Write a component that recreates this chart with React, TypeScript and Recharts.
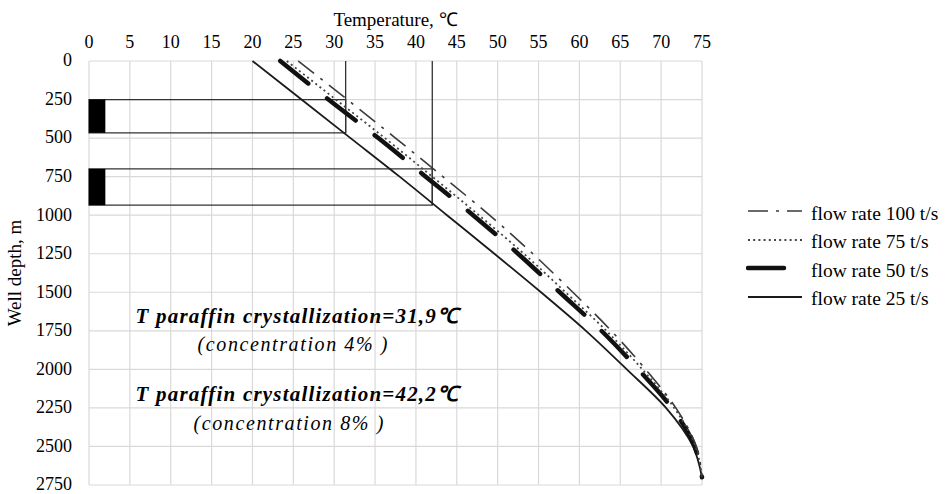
import {
  LineChart,
  Line,
  XAxis,
  YAxis,
  CartesianGrid,
  ReferenceArea,
  ReferenceLine,
  ReferenceDot,
  Legend,
} from "recharts";

// well depth, m (shared by every series)
const depth = [0, 250, 500, 750, 1000, 1250, 1500, 1750, 2000, 2250, 2500, 2700];
// temperature, deg C, per flow rate
const flow100 = [25.6, 31.6, 37.5, 43.3, 49.0, 54.3, 59.2, 63.9, 68.1, 71.8, 74.3, 75];
const flow75 = [24.2, 30.2, 36.2, 42.0, 47.7, 53.2, 58.3, 63.3, 67.7, 71.6, 74.2, 75];
const flow50 = [23.4, 29.3, 35.4, 41.2, 47.0, 52.5, 57.6, 62.7, 67.2, 71.3, 74.1, 75];
const flow25 = [20.0, 26.0, 32.0, 38.0, 43.8, 49.6, 55.3, 60.8, 65.8, 70.6, 73.9, 75];

const tempTicks = [0, 5, 10, 15, 20, 25, 30, 35, 40, 45, 50, 55, 60, 65, 70, 75];
const depthTicks = [0, 250, 500, 750, 1000, 1250, 1500, 1750, 2000, 2250, 2500, 2750];

// paraffin crystallization zones (temperature line, depth range)
const crystTemp = [31.4, 42.0];
const zoneTop = [250, 700];
const zoneBottom = [466, 935];
const markerWidth = 2;

const noteTitles = ["T paraffin crystallization=31,9℃", "T paraffin crystallization=42,2℃"];
const noteSubs = ["(concentration 4% )", "(concentration 8% )"];

const rows = depth.map((d, i) => ({
  depth: d,
  f100: flow100[i],
  f75: flow75[i],
  f50: flow50[i],
  f25: flow25[i],
}));

const series = [
  { key: "f100", name: "flow rate 100 t/s", stroke: "#3a3a3a", width: 1.6, dash: "20 8 3 8", cap: "butt" },
  { key: "f75", name: "flow rate 75 t/s", stroke: "#444", width: 1.8, dash: "2 3.2", cap: "butt" },
  { key: "f50", name: "flow rate 50 t/s", stroke: "#111", width: 4.5, dash: "36 24", cap: "round" },
  { key: "f25", name: "flow rate 25 t/s", stroke: "#1a1a1a", width: 1.8, dash: undefined, cap: "butt" },
];

const FONT = "'Liberation Serif', 'Times New Roman', serif";

function FlowLegend() {
  return (
    <div style={{ display: "flex", flexDirection: "column" }}>
      {series.map((s) => (
        <div key={s.key} style={{ display: "flex", alignItems: "center", height: 28.5 }}>
          <svg width={58} height={10}>
            <line
              x1={2}
              y1={5}
              x2={56}
              y2={5}
              stroke={s.stroke}
              strokeWidth={s.width}
              strokeDasharray={s.dash}
              strokeLinecap={s.cap as any}
            />
          </svg>
          <span style={{ marginLeft: 7, fontSize: 19.5, lineHeight: "20px", whiteSpace: "nowrap", paddingTop: 5 }}>
            {s.name}
          </span>
        </div>
      ))}
    </div>
  );
}

const noteLabel = (text: string, bold: boolean) => (props: any) => {
  const vb = props.viewBox ?? {};
  const x = (vb.x ?? 0) + (vb.width ?? 0) / 2;
  const y = (vb.y ?? 0) + (vb.height ?? 0) / 2;
  return (
    <text
      x={x}
      y={y}
      textAnchor="middle"
      fontFamily={FONT}
      fontSize={bold ? 21 : 20}
      fontWeight={bold ? 700 : 400}
      fontStyle="italic"
      letterSpacing={bold ? 1.2 : 1.6}
      fill="#000"
    >
      {text}
    </text>
  );
};

const yTitle = (props: any) => {
  const vb = props.viewBox ?? {};
  const x = (vb.x ?? 0) - 8;
  const y = (vb.y ?? 0) + (vb.height ?? 0) / 2;
  return (
    <text
      x={x}
      y={y}
      transform={`rotate(-90 ${x} ${y})`}
      textAnchor="middle"
      fontFamily={FONT}
      fontSize={19}
      fill="#000"
    >
      Well depth, m
    </text>
  );
};

export default function App() {
  return (
    <div style={{ position: "absolute", left: 0, top: 0, width: 945, height: 494, background: "#fff", fontFamily: FONT }}>
      <LineChart
        width={945}
        height={494}
        data={rows}
        layout="vertical"
        margin={{ top: 31, right: 243, left: 29, bottom: 9 }}
      >
        <CartesianGrid stroke="#d9d9d9" strokeWidth={1.2} />
        <XAxis
          type="number"
          orientation="top"
          domain={[0, 75]}
          ticks={tempTicks}
          height={30}
          axisLine={false}
          tickLine={false}
          tickSize={0}
          tickMargin={13}
          tick={{ fontSize: 18, fill: "#000" }}
          label={{ value: "Temperature, ℃", position: "top", offset: 5, fontSize: 19, fill: "#000" }}
        />
        <YAxis
          type="number"
          dataKey="depth"
          domain={[0, 2750]}
          ticks={depthTicks}
          interval={0}
          width={60}
          axisLine={false}
          tickLine={false}
          tickSize={0}
          tickMargin={17}
          tick={{ fontSize: 18, fill: "#000", dy: -1 }}
          label={yTitle}
        />

        {crystTemp.map((t, i) => (
          <ReferenceArea
            key={`zone${i}`}
            x1={0}
            x2={t}
            y1={zoneTop[i]}
            y2={zoneBottom[i]}
            fill="none"
            stroke="#333"
            strokeWidth={1.3}
          />
        ))}
        {crystTemp.map((t, i) => (
          <ReferenceLine
            key={`vline${i}`}
            segment={[
              { x: t, y: 0 },
              { x: t, y: zoneBottom[i] },
            ]}
            stroke="#333"
            strokeWidth={1.3}
          />
        ))}

        {[...series].reverse().map((s) => (
          <Line
            key={s.key}
            dataKey={s.key}
            name={s.name}
            type="monotone"
            stroke={s.stroke}
            strokeWidth={s.width}
            strokeDasharray={s.dash}
            strokeLinecap={s.cap as any}
            dot={false}
            activeDot={false}
            isAnimationActive={false}
          />
        ))}

        {crystTemp.map((_, i) => (
          <ReferenceArea
            key={`mark${i}`}
            x1={0}
            x2={markerWidth}
            y1={zoneTop[i]}
            y2={zoneBottom[i]}
            fill="#000"
            fillOpacity={1}
            stroke="none"
          />
        ))}

        <ReferenceDot x={25.5} y={1700} r={0} fill="none" stroke="none" label={noteLabel(noteTitles[0], true)} />
        <ReferenceDot x={25} y={1880} r={0} fill="none" stroke="none" label={noteLabel(noteSubs[0], false)} />
        <ReferenceDot x={25.5} y={2205} r={0} fill="none" stroke="none" label={noteLabel(noteTitles[1], true)} />
        <ReferenceDot x={24.5} y={2395} r={0} fill="none" stroke="none" label={noteLabel(noteSubs[1], false)} />

        <Legend
          layout="vertical"
          align="center"
          verticalAlign="middle"
          wrapperStyle={{ left: 746, top: 197, width: 199 }}
          content={() => <FlowLegend />}
        />
      </LineChart>
    </div>
  );
}
